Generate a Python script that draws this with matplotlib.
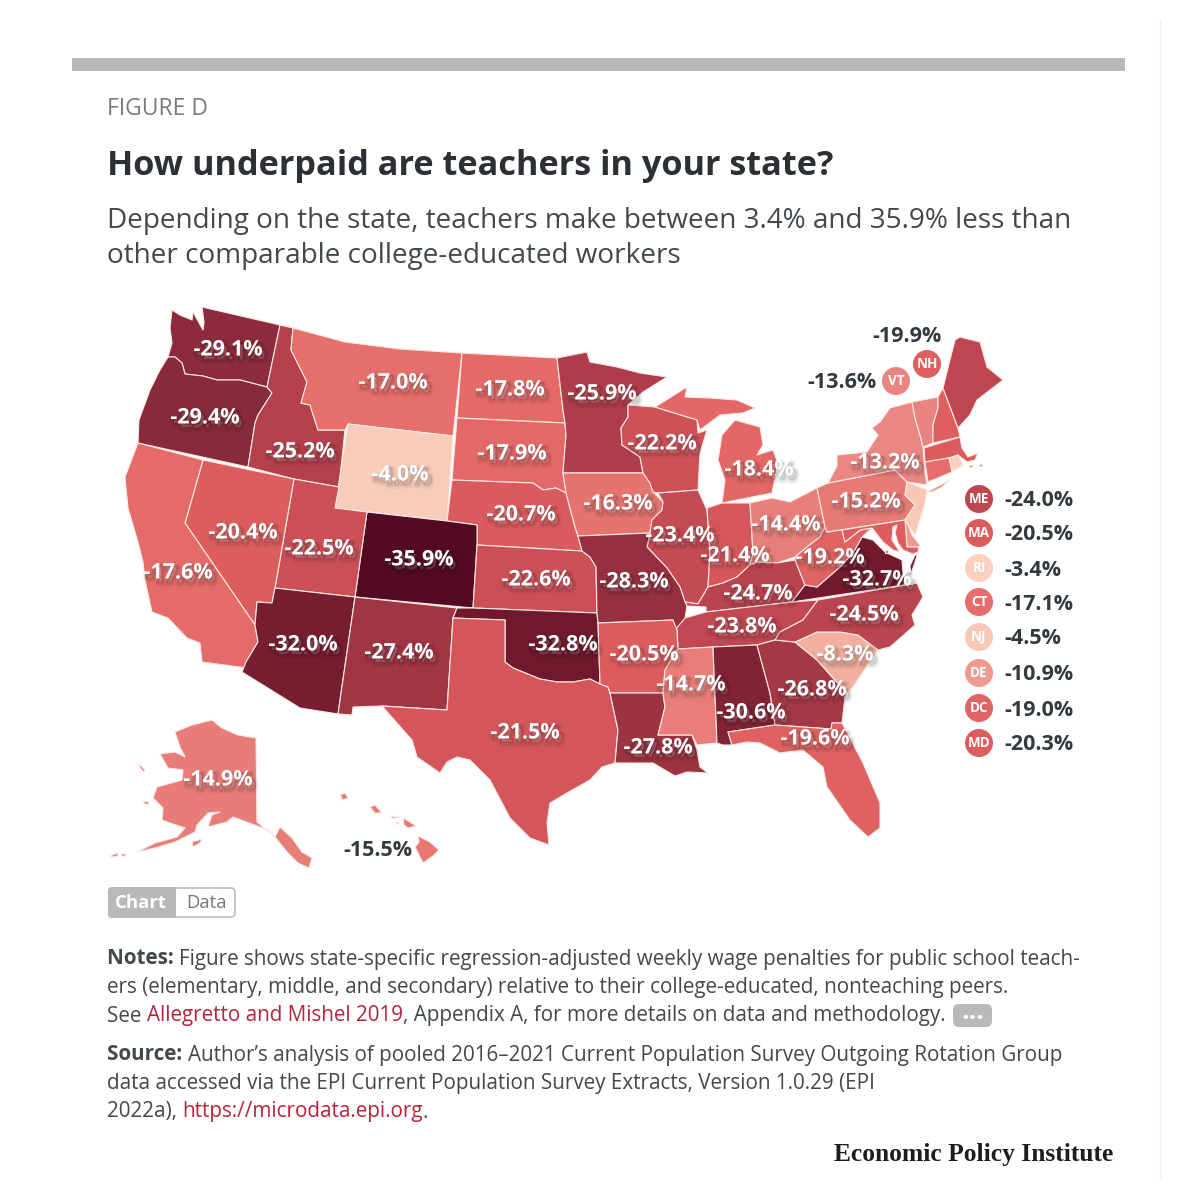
#! /usr/bin/env python
# How underpaid are teachers, state map drawn on a pixel grid
import numpy as np
import matplotlib
matplotlib.use("Agg")
import matplotlib.pyplot as plt
import matplotlib.patheffects as pe
from matplotlib.patches import FancyBboxPatch, Circle, Rectangle

# wage penalty per state
states = ["WA","OR","ID","MT","ND","SD","WY","NE","CO","NV","UT","CA","AZ","NM","KS","OK","TX",
          "MN","IA","MO","AR","LA","MS","AL","GA","FL","SC","NC","TN","KY","VA","WV","OH","IN",
          "IL","WI","MI","PA","NY","AK"]
values = [-29.1,-29.4,-25.2,-17.0,-17.8,-17.9,-4.0,-20.7,-35.9,-20.4,-22.5,-17.6,-32.0,-27.4,-22.6,-32.8,-21.5,
          -25.9,-16.3,-28.3,-20.5,-27.8,-14.7,-30.6,-26.8,-19.6,-8.3,-24.5,-23.8,-24.7,-32.7,-19.2,-14.4,-21.4,
          -23.4,-22.2,-18.4,-15.2,-13.2,-14.9]
# states labelled outside the map
outside_states = ["NH","VT","HI"]
outside_values = [-19.9,-13.6,-15.5]
# small states with a circle key on the right
key_states = ["ME","MA","RI","CT","NJ","DE","DC","MD"]
key_values = [-24.0,-20.5,-3.4,-17.1,-4.5,-10.9,-19.0,-20.3]

# colour ramp of the map
ramp_v = [3.4,8.3,10.9,13.5,17.0,20.5,24.0,27.4,29.3,32.5,35.9]
ramp_c = ["#f9cfbe","#f2ae9f","#ee9a90","#ea8581","#e66e6b","#dc5c5e","#bf4651","#a03543","#8a2a3a","#731a2e","#530a22"]

def color_for(v):
    rgb = np.array([matplotlib.colors.to_rgb(c) for c in ramp_c])
    return tuple(np.interp(abs(v), ramp_v, rgb[:, i]) for i in range(3))

# state outlines, in picture pixels
outlines = {
 "WA": [[(172,310),(180,315),(192,320),(193,312),(203,330),(204,322),(202,307),(280,325),(267,387),(240,380),(217,380),(203,376),(185,374),(182,363),(175,357),(168,357),(172,343),(170,328)]],
 "OR": [[(168,357),(175,357),(182,363),(185,374),(203,376),(217,380),(240,380),(267,387),(272,393),(258,415),(255,423),(248,467),(138,443),(139,420),(150,390),(160,370)]],
 "ID": [[(280,325),(293,328),(291,350),(307,382),(301,403),(310,405),(318,430),(345,430),(339,487),(294,479),(248,467),(255,423),(258,415),(272,393),(267,387)]],
 "MT": [[(293,328),(345,342),(400,349),(462,353),(453,436),(348,424),(345,430),(318,430),(310,405),(301,403),(307,382),(291,350)]],
 "WY": [[(348,424),(453,436),(447,521),(335,508)]],
 "ND": [[(462,353),(557,358),(563,410),(565,423),(457,418)]],
 "SD": [[(457,418),(565,423),(566,435),(563,473),(566,493),(556,488),(543,490),(533,483),(452,480)]],
 "NE": [[(452,480),(533,483),(543,490),(556,488),(566,493),(575,527),(578,536),(582,551),(477,545),(477,525),(447,521)]],
 "CO": [[(367,512),(447,521),(477,525),(477,545),(473,608),(355,597)]],
 "UT": [[(294,479),(339,487),(335,508),(367,512),(355,597),(275,588)]],
 "NV": [[(203,460),(294,479),(275,588),(272,603),(257,602),(255,625),(185,523)]],
 "CA": [[(138,443),(203,460),(185,523),(255,625),(258,642),(246,662),(247,668),(202,662),(200,643),(187,638),(168,618),(152,612),(145,580),(143,562),(138,542),(128,508),(125,477)]],
 "AZ": [[(275,588),(355,597),(338,714),(300,708),(242,672),(246,662),(258,642),(255,625),(257,602),(272,603)]],
 "NM": [[(355,597),(457,608),(453,618),(447,710),(382,706),(353,707),(352,715),(338,714)]],
 "KS": [[(477,545),(582,551),(590,557),(596,567),(597,613),(473,608)]],
 "OK": [[(457,608),(473,608),(597,613),(598,623),(600,684),(590,679),(573,682),(557,682),(540,679),(513,668),(505,662),(505,620),(453,618)]],
 "TX": [[(453,618),(505,620),(505,662),(513,668),(540,679),(557,682),(573,682),(590,679),(600,684),(608,687),(610,693),(618,730),(615,763),(602,767),(590,780),(567,793),(550,803),(547,823),(549,845),(530,838),(510,818),(490,780),(470,760),(457,757),(447,762),(440,773),(417,757),(412,740),(382,706),(447,710)]],
 "MN": [[(557,358),(587,352),(590,362),(617,367),(640,373),(667,377),(643,392),(628,405),(628,417),(621,428),(622,445),(640,457),(643,473),(563,473),(566,435),(565,423),(563,410)]],
 "IA": [[(563,473),(643,473),(650,483),(653,492),(663,502),(662,510),(652,520),(650,533),(578,536),(575,527),(566,493)]],
 "WI": [[(628,405),(655,407),(697,420),(698,433),(707,430),(700,453),(698,490),(658,493),(653,492),(650,483),(643,473),(640,457),(622,445),(621,428),(628,417)]],
 "MI": [[(655,407),(687,387),(685,397),(710,398),(737,400),(755,408),(743,413),(720,415),(700,430),(697,420)],
        [(735,420),(760,427),(763,445),(757,455),(773,450),(778,463),(772,493),(722,503),(725,480),(718,460),(722,435)]],
 "IL": [[(658,493),(698,490),(707,510),(710,553),(708,587),(698,604),(685,602),(680,587),(667,568),(647,547),(650,533),(652,520),(662,510),(663,502)]],
 "IN": [[(707,508),(722,503),(750,503),(753,553),(750,565),(737,577),(723,583),(708,587),(710,553)]],
 "OH": [[(750,503),(772,498),(790,502),(817,488),(825,527),(820,537),(807,547),(795,557),(777,563),(757,562),(750,565),(753,553)]],
 "KY": [[(708,587),(723,583),(737,577),(750,565),(757,562),(777,563),(795,560),(805,585),(792,602),(706,612),(706,607),(687,606),(685,602),(698,604)]],
 "TN": [[(685,618),(706,612),(792,602),(818,600),(803,620),(780,632),(775,640),(757,645),(713,647),(678,649),(677,630),(673,620)]],
 "MO": [[(578,536),(650,533),(647,547),(667,568),(680,587),(685,602),(687,606),(685,618),(675,630),(673,620),(598,623),(597,613),(596,567),(590,557),(582,551)]],
 "AR": [[(598,623),(673,620),(677,630),(678,649),(665,670),(663,693),(610,693),(608,687),(600,684)]],
 "LA": [[(610,693),(663,693),(665,707),(658,735),(692,735),(697,750),(700,767),(708,773),(687,772),(675,776),(653,763),(615,763),(618,730)]],
 "MS": [[(678,649),(713,647),(717,743),(697,745),(692,735),(658,735),(665,707),(663,693),(665,670)]],
 "AL": [[(713,647),(757,645),(770,693),(775,725),(728,732),(732,745),(723,745),(717,743)]],
 "GA": [[(757,645),(775,640),(795,642),(817,660),(833,678),(847,693),(845,697),(842,723),(832,723),(831,729),(775,725),(770,693)]],
 "FL": [[(728,732),(775,725),(831,729),(832,723),(842,723),(863,763),(880,803),(880,828),(868,837),(850,820),(827,787),(823,767),(803,750),(780,753),(760,743),(747,742),(732,745)]],
 "SC": [[(795,642),(817,632),(840,632),(858,635),(878,650),(873,657),(853,687),(847,693),(833,678),(817,660)]],
 "NC": [[(818,600),(917,583),(923,597),(912,615),(915,625),(890,647),(878,650),(858,635),(840,632),(817,632),(795,642),(775,640),(780,632),(803,620)]],
 "VA": [[(792,602),(805,585),(817,587),(840,567),(853,553),(862,537),(873,540),(885,552),(902,560),(903,573),(908,585),(917,583)],
        [(915,555),(917,556),(911,574),(910,566)]],
 "WV": [[(820,537),(825,527),(827,532),(842,530),(845,542),(860,530),(872,528),(862,537),(853,553),(840,567),(817,587),(805,585),(795,560),(795,557),(807,547)]],
 "PA": [[(817,488),(828,483),(895,470),(907,482),(905,495),(915,505),(905,520),(827,532),(825,527)]],
 "NY": [[(828,483),(837,466),(837,455),(867,452),(878,435),(872,428),(880,422),(890,408),(912,402),(915,418),(920,435),(923,447),(925,472),(927,485),(907,482),(895,470)],
        [(927,492),(950,480),(942,487),(932,492)]],
 "VT": [[(912,402),(938,397),(938,408),(933,425),(933,443),(923,447),(920,435),(915,418)]],
 "NH": [[(938,397),(943,388),(958,428),(960,437),(933,443),(933,425),(938,408)]],
 "ME": [[(943,388),(955,340),(960,337),(980,342),(987,367),(1003,380),(977,400),(970,415),(958,428)]],
 "MA": [[(924,448),(960,437),(962,448),(968,457),(978,453),(975,460),(967,462),(958,455),(949,458),(925,462)],
        [(969,465),(972,465),(972,467),(969,467)],[(979,464),(982,464),(982,466),(979,466)]],
 "CT": [[(925,462),(949,458),(952,472),(928,482)]],
 "RI": [[(949,458),(958,455),(963,465),(953,471)]],
 "NJ": [[(907,482),(927,490),(925,502),(923,510),(915,535),(905,520),(915,505),(905,495)]],
 "DE": [[(905,520),(908,525),(912,535),(920,545),(919,547),(907,547)]],
 "DC": [[(885,550),(888,550),(888,553),(885,553)]],
 "MD": [[(842,530),(905,520),(907,547),(919,547),(918,552),(913,554),(903,550),(898,543),(895,533),(897,525),(893,527),(892,540),(900,552),(893,550),(883,542),(872,528),(860,530),(845,542)]],
 "AK": [[(175,732),(192,725),(212,720),(222,728),(238,735),(256,738),(257,822),(263,827),(275,837),(280,827),(292,838),(302,852),(312,858),(309,868),(298,863),(287,852),(275,837),(268,830),(233,817),(227,822),(208,827),(212,815),(220,812),(208,813),(197,825),(195,832),(175,842),(155,848),(137,852),(155,843),(177,837),(185,828),(170,823),(162,820),(163,808),(153,798),(157,787),(182,780),(183,770),(168,768),(160,754),(175,752),(185,757),(180,747)],
        [(192,842),(202,839),(200,843),(193,847)],
        [(110,856),(118,853),(118,856),(112,857)],
        [(122,853),(127,855),(122,857)],
        [(142,801),(149,802),(148,805),(145,804)],
        [(138,763),(145,770),(144,772),(140,768)]],
 "HI": [[(418,836),(430,842),(439,850),(433,856),(423,863),(418,853),(415,847),(419,842)],
        [(403,818),(410,822),(416,826),(408,828),(404,825)],
        [(390,816),(400,817),(398,818),(392,818)],
        [(396,822),(399,823),(397,825)],
        [(370,807),(375,805),(382,813),(375,813)],
        [(340,795),(345,793),(348,798),(343,800)]],
}

# where the percentage of each state sits
label_xy = {"WA":(228,348),"OR":(205,416),"ID":(300,450),"MT":(393,381),"ND":(510,388),"SD":(512,452),
            "WY":(400,473),"NE":(521,513),"CO":(419,558),"NV":(243,531),"UT":(319,547),"CA":(178,571),
            "AZ":(303,643),"NM":(399,651),"KS":(536,578),"OK":(563,643),"TX":(525,731),"MN":(602,392),
            "IA":(618,502),"MO":(634,580),"AR":(644,653),"LA":(658,746),"MS":(691,683),"AL":(751,711),
            "GA":(812,688),"FL":(815,737),"SC":(845,653),"NC":(864,613),"TN":(742,625),"KY":(758,592),
            "VA":(877,578),"WV":(830,556),"OH":(786,523),"IN":(735,554),"IL":(680,534),"WI":(662,442),
            "MI":(759,468),"PA":(866,500),"NY":(885,461),"AK":(218,778)}
outside_xy = {"NH":(907,335),"VT":(842,381),"HI":(378,849)}
circle_xy = {"NH":(927,364),"VT":(896,381)}
key_y = [499,533,568,602,637,673,708,743]

FONT = "Open Sans"
DARK = "#333a3f"
RED = "#b8233a"
LABEL = 21.5

fig = plt.figure(figsize=(12,12), dpi=100)
ax = fig.add_axes([0,0,1,1])
ax.set_xlim(0,1200)
ax.set_ylim(1200,0)
ax.axis("off")

def px(size):
    return size*72./100.

shadow = [pe.Stroke(linewidth=6, foreground="black", alpha=0.04, offset=(2,-3)),
          pe.Stroke(linewidth=3.5, foreground="black", alpha=0.07, offset=(2,-3)),
          pe.Stroke(linewidth=1.5, foreground="black", alpha=0.10, offset=(2,-2.5)),
          pe.Normal()]

def pct(v):
    return "%.1f%%" % v

# page furniture
ax.add_patch(Rectangle((72,58),1053,13,color="#b9b9b9",lw=0))
ax.plot([1160,1160],[20,1178],color="#efefef",lw=1)

ax.text(107,109,"FIGURE D",fontsize=px(22.9),color="#7a7a7a",family=FONT,va="center")
ax.text(107,166,"How underpaid are teachers in your state?",fontsize=px(34.3),color="#2c3034",family=FONT,weight="bold",va="center")
ax.text(107,221,"Depending on the state, teachers make between 3.4% and 35.9% less than",fontsize=px(27.9),color="#43484c",family=FONT,va="center")
ax.text(107,256,"other comparable college-educated workers",fontsize=px(27.9),color="#43484c",family=FONT,va="center")

# the map
all_values = dict(zip(states,values))
all_values.update(zip(outside_states,outside_values))
all_values.update(zip(key_states,key_values))
for st, parts in outlines.items():
    for part in parts:
        xs, ys = zip(*part)
        ax.fill(xs,ys,facecolor=color_for(all_values[st]),edgecolor="#fbe9e4",lw=0.8,joinstyle="round",zorder=2)

for st, v in zip(states,values):
    x, y = label_xy[st]
    ax.text(x,y+2,pct(v),color="white",fontsize=px(LABEL),family=FONT,weight="bold",ha="center",va="center",
            path_effects=shadow,zorder=5)

for st, v in zip(outside_states,outside_values):
    x, y = outside_xy[st]
    ax.text(x,y+2,pct(v),color=DARK,fontsize=px(LABEL),family=FONT,weight="bold",ha="center",va="center",zorder=5)

for st, (x,y) in circle_xy.items():
    ax.add_patch(Circle((x,y),14,facecolor=color_for(all_values[st]),edgecolor="none",zorder=4))
    ax.text(x,y,st,color="white",fontsize=px(13.5),family=FONT,weight="bold",ha="center",va="center",zorder=5)

for st, v, y in zip(key_states,key_values,key_y):
    ax.add_patch(Circle((979,y),14,facecolor=color_for(v),edgecolor="none",zorder=4))
    ax.text(979,y,st,color="white",fontsize=px(13.5),family=FONT,weight="bold",ha="center",va="center",zorder=5)
    ax.text(1004,y+2,pct(v),color=DARK,fontsize=px(LABEL),family=FONT,weight="bold",ha="left",va="center",zorder=5)

# chart / data switch
ax.add_patch(FancyBboxPatch((109,888),126,29,boxstyle="round,pad=0,rounding_size=4",facecolor="white",edgecolor="#bdbdbd",lw=1.2))
ax.add_patch(FancyBboxPatch((108,887),68,31,boxstyle="round,pad=0,rounding_size=4",facecolor="#b9b9b9",edgecolor="none"))
ax.add_patch(Rectangle((166,887),10,31,color="#b9b9b9",lw=0))
ax.text(141,903,"Chart",color="white",fontsize=px(18.5),family=FONT,weight="bold",ha="center",va="center")
ax.text(206,903,"Data",color="#777777",fontsize=px(18.5),family=FONT,ha="center",va="center")

# notes, written piece by piece because of the bold and red runs
renderer = fig.canvas.get_renderer()
def run_line(y, pieces, size=20.6):
    x = 107.
    for txt, col, wgt in pieces:
        t = ax.text(x,y+2,txt,color=col,fontsize=px(size),family=FONT,weight=wgt,va="center")
        x += t.get_window_extent(renderer).width
    return x

GR = "#43484c"
run_line(957,[("Notes: ",GR,"bold"),("Figure shows state-specific regression-adjusted weekly wage penalties for public school teach-",GR,"normal")])
run_line(985,[("ers (elementary, middle, and secondary) relative to their college-educated, nonteaching peers.",GR,"normal")])
run_line(1014,[("See ",GR,"normal"),("Allegretto and Mishel 2019",RED,"normal"),(", Appendix A, for more details on data and methodology.",GR,"normal")])
run_line(1053,[("Source: ",GR,"bold"),("Author\u2019s analysis of pooled 2016\u20132021 Current Population Survey Outgoing Rotation Group",GR,"normal")])
run_line(1082,[("data accessed via the EPI Current Population Survey Extracts, Version 1.0.29 (EPI",GR,"normal")])
run_line(1110,[("2022a), ",GR,"normal"),("https://microdata.epi.org",RED,"normal"),(".",GR,"normal")])

ax.add_patch(FancyBboxPatch((953,1004),39,23,boxstyle="round,pad=0,rounding_size=6",facecolor="#b9b9b9",edgecolor="none"))
ax.text(972.5,1012,"...",color="white",fontsize=px(27),family=FONT,weight="bold",ha="center",va="center")

ax.text(1113,1155,"Economic Policy Institute",fontsize=px(25.5),color="#1d1d1d",family="Liberation Serif",weight="bold",ha="right",va="center")

fig.savefig("out.png",dpi=100)
